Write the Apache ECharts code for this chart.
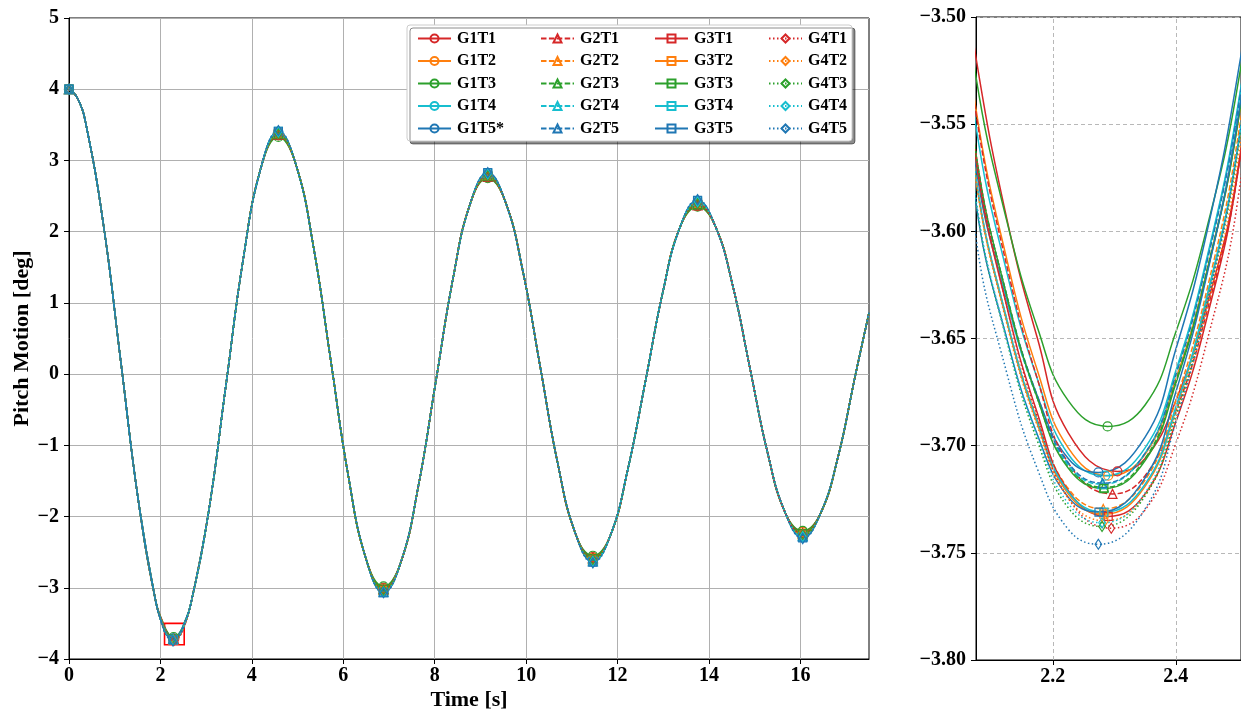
<!DOCTYPE html>
<html><head><meta charset="utf-8">
<script src="https://cdn.jsdelivr.net/npm/echarts@6/dist/echarts.min.js"></script>
<style>html,body{margin:0;padding:0;background:#fff}#c{width:1241px;height:713px}</style>
</head><body><div id="c"></div>
<script>
// ---------------- data ----------------
// shared curve of all runs (they overlap at the full-scale view)
const baseTime = [0, 0.19, 0.38, 0.76, 1.14, 1.52, 1.90,
  2.66, 3.05, 3.43, 3.81, 4.20, 4.58,
  4.96, 5.35, 5.73, 6.11, 6.50, 6.88,
  7.26, 7.64, 8.02, 8.40, 8.78, 9.16,
  9.54, 9.93, 10.31, 10.69, 11.08, 11.46,
  11.84, 12.22, 12.61, 12.99, 13.37, 13.75,
  14.13, 14.52, 14.90, 15.28, 15.67, 16.05,
  16.43, 16.82, 17.20, 17.50];
const basePitch = [4.00, 3.87, 3.48, 2.07, 0.14, -1.79, -3.20,
  -3.24, -1.95, -0.17, 1.61, 2.90, 3.38,
  2.95, 1.78, 0.175, -1.43, -2.60, -3.03,
  -2.64, -1.58, -0.12, 1.34, 2.40, 2.79,
  2.43, 1.44, 0.095, -1.25, -2.24, -2.60,
  -2.27, -1.35, -0.10, 1.15, 2.07, 2.40,
  2.09, 1.24, 0.07, -1.10, -1.95, -2.26,
  -1.97, -1.17, -0.02, 0.86];

// later extrema per run
const peakTime = [4.58, 6.88, 9.16, 11.46, 13.75, 16.05];
const G1_peaks = [
  [3.35, -3.00, 2.76, -2.57, 2.36, -2.21],
  [3.36, -3.01, 2.77, -2.58, 2.37, -2.22],
  [3.33, -2.98, 2.75, -2.55, 2.35, -2.20],
  [3.39, -3.04, 2.80, -2.61, 2.41, -2.26],
  [3.40, -3.05, 2.81, -2.62, 2.42, -2.27]];
const G2_peaks = [
  [3.36, -3.02, 2.77, -2.58, 2.37, -2.23],
  [3.38, -3.03, 2.79, -2.60, 2.39, -2.25],
  [3.37, -3.02, 2.78, -2.59, 2.38, -2.24],
  [3.39, -3.05, 2.80, -2.62, 2.41, -2.27],
  [3.40, -3.06, 2.81, -2.63, 2.42, -2.28]];
const G3_peaks = [
  [3.37, -3.03, 2.78, -2.59, 2.38, -2.24],
  [3.38, -3.04, 2.79, -2.61, 2.40, -2.26],
  [3.37, -3.02, 2.78, -2.59, 2.38, -2.24],
  [3.41, -3.06, 2.82, -2.63, 2.43, -2.29],
  [3.41, -3.07, 2.83, -2.64, 2.44, -2.30]];
const G4_peaks = [
  [3.37, -3.03, 2.78, -2.60, 2.39, -2.25],
  [3.38, -3.04, 2.79, -2.61, 2.40, -2.26],
  [3.38, -3.04, 2.79, -2.61, 2.40, -2.26],
  [3.40, -3.06, 2.81, -2.63, 2.42, -2.28],
  [3.42, -3.07, 2.83, -2.65, 2.45, -2.31]];

// first trough, detailed (zoom panel)
const troughTime = [2.075, 2.125, 2.175, 2.225, 2.35, 2.40, 2.45, 2.50];
const G1_minT = [2.305, 2.290, 2.289, 2.285, 2.274];
const G1_min  = [-3.712, -3.714, -3.691, -3.714, -3.7125];
const G1_trough = [
  [-3.519, -3.594, -3.650, -3.694, -3.706, -3.679, -3.635, -3.573],
  [-3.543, -3.613, -3.665, -3.701, -3.704, -3.669, -3.619, -3.551],
  [-3.528, -3.595, -3.645, -3.679, -3.681, -3.647, -3.599, -3.533],
  [-3.551, -3.619, -3.669, -3.704, -3.701, -3.665, -3.613, -3.543],
  [-3.570, -3.632, -3.677, -3.706, -3.696, -3.655, -3.601, -3.528]];
const G2_minT = [2.297, 2.282, 2.283, 2.280, 2.281];
const G2_min  = [-3.7225, -3.7295, -3.7195, -3.718, -3.7175];
const G2_trough = [
  [-3.545, -3.616, -3.669, -3.708, -3.714, -3.684, -3.638, -3.574],
  [-3.575, -3.641, -3.688, -3.720, -3.716, -3.679, -3.628, -3.558],
  [-3.564, -3.630, -3.678, -3.7095, -3.706, -3.670, -3.619, -3.550],
  [-3.567, -3.632, -3.678, -3.709, -3.7035, -3.666, -3.614, -3.544],
  [-3.565, -3.630, -3.677, -3.708, -3.7035, -3.667, -3.615, -3.545]];
const G3_minT = [2.290, 2.283, 2.283, 2.283, 2.275];
const G3_min  = [-3.733, -3.732, -3.720, -3.731, -3.731];
const G3_trough = [
  [-3.567, -3.635, -3.685, -3.721, -3.7225, -3.689, -3.641, -3.574],
  [-3.576, -3.642, -3.690, -3.7225, -3.719, -3.683, -3.632, -3.563],
  [-3.564, -3.630, -3.678, -3.7105, -3.707, -3.671, -3.620, -3.551],
  [-3.575, -3.641, -3.689, -3.7215, -3.718, -3.682, -3.631, -3.562],
  [-3.587, -3.650, -3.695, -3.724, -3.715, -3.675, -3.621, -3.549]];
const G4_minT = [2.295, 2.285, 2.280, 2.280, 2.274];
const G4_min  = [-3.7385, -3.735, -3.7377, -3.736, -3.746];
const G4_trough = [
  [-3.564, -3.635, -3.687, -3.7245, -3.730, -3.699, -3.652, -3.587],
  [-3.576, -3.643, -3.691, -3.7245, -3.723, -3.687, -3.637, -3.569],
  [-3.586, -3.651, -3.698, -3.729, -3.7235, -3.686, -3.634, -3.564],
  [-3.585, -3.650, -3.696, -3.727, -3.722, -3.684, -3.632, -3.562],
  [-3.603, -3.666, -3.711, -3.739, -3.7295, -3.689, -3.635, -3.562]];

const G1_names = ['G1T1', 'G1T2', 'G1T3', 'G1T4', 'G1T5*'];
const G2_names = ['G2T1', 'G2T2', 'G2T3', 'G2T4', 'G2T5'];
const G3_names = ['G3T1', 'G3T2', 'G3T3', 'G3T4', 'G3T5'];
const G4_names = ['G4T1', 'G4T2', 'G4T3', 'G4T4', 'G4T5'];

const xTicksMain = [0, 2, 4, 6, 8, 10, 12, 14, 16];
const xTicksZoom = [2.2, 2.4];
const zoomBoxX = [2.09, 2.52];
const zoomBoxY = [-3.80, -3.50];

// ---------------- styles ----------------
const FONT = '"Liberation Serif","Times New Roman",serif';
const trialColors = ['#d62728', '#ff7f0e', '#2ca02c', '#17becf', '#1f77b4'];
const groupSymbols = ['circle', 'triangle', 'rect', 'diamond'];
const groupSymbolSize = [9, 9, 8, [6.5, 10]];
const groupDash = ['solid', [5.5, 2.4], 'solid', [1.5, 2.5]];

const groups = [
  {names: G1_names, peaks: G1_peaks, minT: G1_minT, min: G1_min, trough: G1_trough},
  {names: G2_names, peaks: G2_peaks, minT: G2_minT, min: G2_min, trough: G2_trough},
  {names: G3_names, peaks: G3_peaks, minT: G3_minT, min: G3_min, trough: G3_trough},
  {names: G4_names, peaks: G4_peaks, minT: G4_minT, min: G4_min, trough: G4_trough}];

function buildData(peaks, minT, minV, trough) {
  const pts = [];
  baseTime.forEach((t, i) => {
    const k = peakTime.indexOf(t);
    pts.push({t: t, v: k >= 0 ? peaks[k] : basePitch[i], mark: k >= 0 || i === 0});
  });
  troughTime.forEach((t, i) => pts.push({t: t, v: trough[i], mark: false}));
  pts.push({t: minT, v: minV, mark: true});
  pts.sort((a, b) => a.t - b.t);
  return pts.map(p => p.mark ? {value: [p.t, p.v]} : {value: [p.t, p.v], symbol: 'none'});
}

const series = [];
[0, 1].forEach(panel => {
  groups.forEach((g, gi) => {
    g.names.forEach((name, ti) => {
      const c = trialColors[ti];
      series.push({
        name: name, type: 'line', xAxisIndex: panel, yAxisIndex: panel,
        data: buildData(g.peaks[ti], g.minT[ti], g.min[ti], g.trough[ti]),
        smooth: 0.45, showSymbol: true, showAllSymbol: true, clip: true,
        symbol: groupSymbols[gi], symbolSize: groupSymbolSize[gi],
        lineStyle: {color: c, width: 1.5, type: groupDash[gi]},
        itemStyle: {color: 'rgba(255,255,255,0)', borderColor: c, borderWidth: 1.2},
        emphasis: {disabled: true}, silent: true, z: 3
      });
    });
  });
});
// zoom box indicator on main panel
series.push({
  type: 'line', xAxisIndex: 0, yAxisIndex: 0, data: [], silent: true, z: 6,
  markArea: {silent: true, itemStyle: {color: 'rgba(0,0,0,0)', borderColor: '#ff0000', borderWidth: 1.6},
    data: [[{coord: [zoomBoxX[0], zoomBoxY[1]]}, {coord: [zoomBoxX[1], zoomBoxY[0]]}]]}
});
// vertical dashed grid lines of zoom panel
series.push({
  type: 'line', xAxisIndex: 1, yAxisIndex: 1, data: [], silent: true, z: 1,
  markLine: {silent: true, symbol: ['none', 'none'], label: {show: false},
    lineStyle: {color: '#b8b8b8', type: [4, 3], width: 1},
    data: xTicksZoom.map(v => ({xAxis: v}))}
});

const tickLabel = {fontFamily: FONT, fontWeight: 'bold', fontSize: 20, color: '#000'};
const minus = s => String(s).replace('-', '\u2212');

const legendLeft = [412, 535, 649, 763];
const option = {
  animation: false,
  backgroundColor: '#fff',
  grid: [
    {left: 69, top: 18, width: 800, height: 641, show: true, borderColor: '#000', borderWidth: 1, outerBoundsMode: 'none'},
    {left: 976, top: 17, width: 265, height: 643, show: true, borderColor: '#000', borderWidth: 1, outerBoundsMode: 'none'}
  ],
  xAxis: [
    {type: 'value', gridIndex: 0, min: 0, max: 17.5, interval: 2,
     name: 'Time [s]', nameLocation: 'middle', nameGap: 30, nameMoveOverlap: false,
     nameTextStyle: {fontFamily: FONT, fontWeight: 'bold', fontSize: 22, color: '#000'},
     axisLine: {onZero: false, lineStyle: {color: '#000', width: 1}},
     axisTick: {length: 5, lineStyle: {color: '#000'}, customValues: xTicksMain},
     axisLabel: Object.assign({margin: 7, customValues: xTicksMain}, tickLabel),
     splitLine: {show: true, lineStyle: {color: '#b0b0b0', width: 1}}},
    {type: 'value', gridIndex: 1, min: 2.075, max: 2.506,
     axisLine: {onZero: false, lineStyle: {color: '#000', width: 1}},
     axisTick: {length: 5, lineStyle: {color: '#000'}, customValues: xTicksZoom},
     axisLabel: Object.assign({margin: 7, customValues: xTicksZoom, formatter: v => Number(v).toFixed(1)}, tickLabel),
     splitLine: {show: false}}
  ],
  yAxis: [
    {type: 'value', gridIndex: 0, min: -4, max: 5, interval: 1,
     name: 'Pitch Motion [deg]', nameLocation: 'middle', nameGap: 36, nameMoveOverlap: false,
     nameTextStyle: {fontFamily: FONT, fontWeight: 'bold', fontSize: 22, color: '#000'},
     axisLine: {onZero: false, lineStyle: {color: '#000', width: 1}},
     axisTick: {length: 5, lineStyle: {color: '#000'}},
     axisLabel: Object.assign({margin: 10, formatter: v => minus(v)}, tickLabel),
     splitLine: {show: true, lineStyle: {color: '#b0b0b0', width: 1}}},
    {type: 'value', gridIndex: 1, min: -3.8, max: -3.5, interval: 0.05,
     axisLine: {onZero: false, lineStyle: {color: '#000', width: 1}},
     axisTick: {length: 5, lineStyle: {color: '#000'}},
     axisLabel: Object.assign({margin: 10, formatter: v => minus(Number(v).toFixed(2))}, tickLabel),
     splitLine: {show: true, lineStyle: {color: '#b8b8b8', width: 1, type: [4, 3]}}}
  ],
  legend: groups.map((g, gi) => ({
    orient: 'vertical', left: legendLeft[gi], top: 25.5,
    itemWidth: 33, itemHeight: 10, itemGap: 6.5,
    data: g.names, selectedMode: false, z: 6,
    textStyle: {fontFamily: FONT, fontWeight: 'bold', fontSize: 16, color: '#000', lineHeight: 16, padding: [0, 0, 0, 1]}
  })),
  graphic: [{
    type: 'rect', z: 5, silent: true,
    shape: {x: 407, y: 25, width: 445, height: 116, r: 3},
    style: {fill: '#fff', stroke: '#cccccc', lineWidth: 1,
      shadowColor: 'rgba(0,0,0,0.45)', shadowBlur: 0, shadowOffsetX: 3, shadowOffsetY: 3}
  }],
  series: series
};
const chart = echarts.init(document.getElementById('c'), null, {renderer: 'canvas'});
chart.setOption(option);
</script>
</body></html>
